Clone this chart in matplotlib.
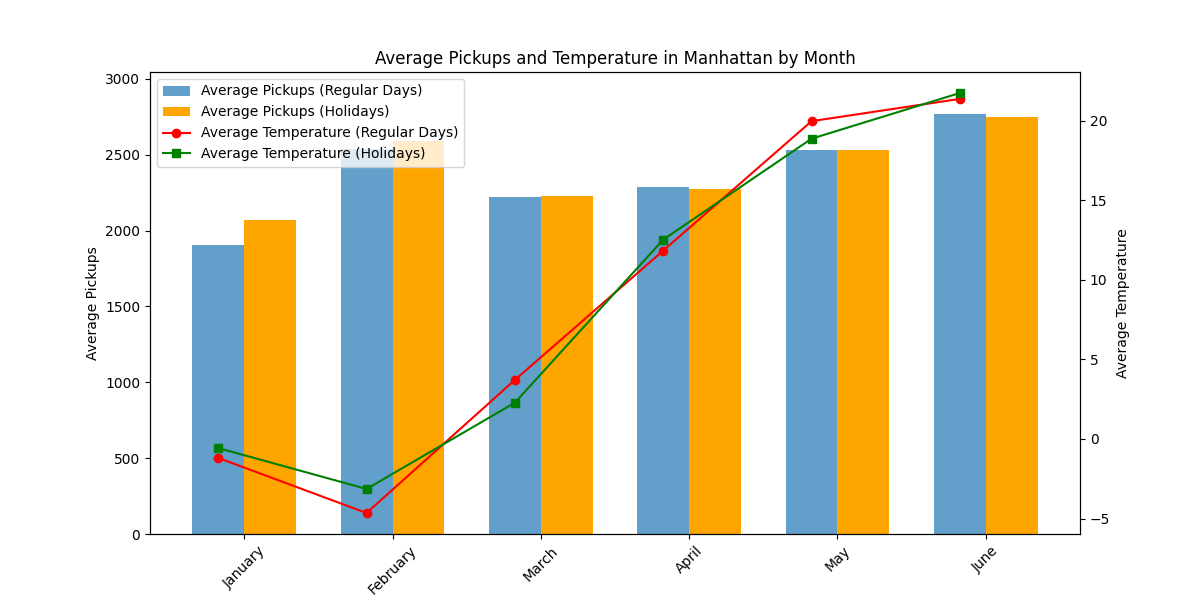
import numpy as np
import matplotlib
matplotlib.use('Agg')
from matplotlib import pyplot as plt

months = ['January', 'February', 'March', 'April', 'May', 'June']
pickups_regular = [1906, 2540, 2223, 2289, 2533, 2770]
pickups_holiday = [2071, 2588, 2230, 2276, 2533, 2751]
temp_regular = [-1.19, -4.65, 3.71, 11.83, 19.96, 21.36]
temp_holiday = [-0.57, -3.14, 2.28, 12.52, 18.86, 21.73]

x = np.arange(len(months))
width = 0.35

fig, ax1 = plt.subplots(figsize=(12, 6), dpi=100)
b1 = ax1.bar(x - width/2, pickups_regular, width, label='Average Pickups (Regular Days)', alpha=0.7)
b2 = ax1.bar(x + width/2, pickups_holiday, width, label='Average Pickups (Holidays)', color='orange')
ax1.set_ylabel('Average Pickups')
ax1.set_ylim(0, 3046)
ax1.set_xticks(x)
ax1.set_xticklabels(months, rotation=45)

# temperature lines sit on the regular-day bar centres
ax2 = ax1.twinx()
l1, = ax2.plot(x - width/2, temp_regular, color='red', marker='o', label='Average Temperature (Regular Days)')
l2, = ax2.plot(x - width/2, temp_holiday, color='green', marker='s', label='Average Temperature (Holidays)')
ax2.set_ylabel('Average Temperature')

handles = [b1, b2, l1, l2]
ax2.legend(handles, [h.get_label() for h in handles], loc='upper left')

plt.title('Average Pickups and Temperature in Manhattan by Month')
plt.savefig('out.png')
